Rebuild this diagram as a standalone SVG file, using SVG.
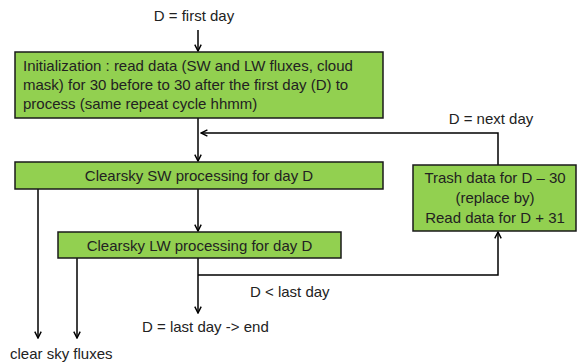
<svg xmlns="http://www.w3.org/2000/svg" width="577" height="364" viewBox="0 0 577 364">
<style>
.box{fill:#92D050;stroke:#1a1a1a;stroke-width:1.5}
.t{font-family:"Liberation Sans",Arial,sans-serif;font-size:15px;fill:#222}
.c{text-anchor:middle}
.ln{fill:none;stroke:#000;stroke-width:1.5}
</style>
<defs>
<marker id="a" viewBox="0 0 10 10" refX="9" refY="5" markerWidth="8" markerHeight="8" markerUnits="userSpaceOnUse" orient="auto">
<path d="M1,1 L9,5 L1,9" fill="none" stroke="#000" stroke-width="1.8"/>
</marker>
</defs>
<rect width="577" height="364" fill="#fff"/>
<g id="connectors">
<line class="ln" x1="198" y1="30" x2="198" y2="51" marker-end="url(#a)"/>
<line class="ln" x1="198" y1="118" x2="198" y2="161" marker-end="url(#a)"/>
<polyline class="ln" points="498,165 498,133 201,133" marker-end="url(#a)"/>
<line class="ln" x1="198" y1="189" x2="198" y2="231" marker-end="url(#a)"/>
<line class="ln" x1="38" y1="189" x2="38" y2="338" marker-end="url(#a)"/>
<line class="ln" x1="77" y1="258" x2="77" y2="338" marker-end="url(#a)"/>
<line class="ln" x1="198" y1="258" x2="198" y2="313" marker-end="url(#a)"/>
<polyline class="ln" points="198,275 498,275 498,232" marker-end="url(#a)"/>
</g>
<text class="t c" x="194" y="21">D = first day</text>
<text class="t c" x="491" y="124">D = next day</text>
<text class="t" x="250" y="297">D &lt; last day</text>
<text class="t" x="142" y="332">D = last day -&gt; end</text>
<text class="t" x="10" y="359">clear sky fluxes</text>
<g id="init">
<rect class="box" x="15" y="52" width="368" height="66"/>
<text class="t" x="23" y="71">Initialization : read data (SW and LW fluxes, cloud</text>
<text class="t" x="23" y="90">mask) for 30 before to 30 after the first day (D) to</text>
<text class="t" x="23" y="109">process (same repeat cycle hhmm)</text>
</g>
<g id="sw">
<rect class="box" x="15" y="162" width="368" height="27"/>
<text class="t c" x="199" y="180.5">Clearsky SW processing for day D</text>
</g>
<g id="lw">
<rect class="box" x="58" y="232" width="283" height="26"/>
<text class="t c" x="199.5" y="250.5">Clearsky LW processing for day D</text>
</g>
<g id="trash">
<rect class="box" x="413" y="165" width="163" height="66"/>
<text class="t c" x="495" y="183">Trash data for D – 30</text>
<text class="t c" x="495" y="203">(replace by)</text>
<text class="t c" x="495" y="223">Read data for D + 31</text>
</g>
</svg>
